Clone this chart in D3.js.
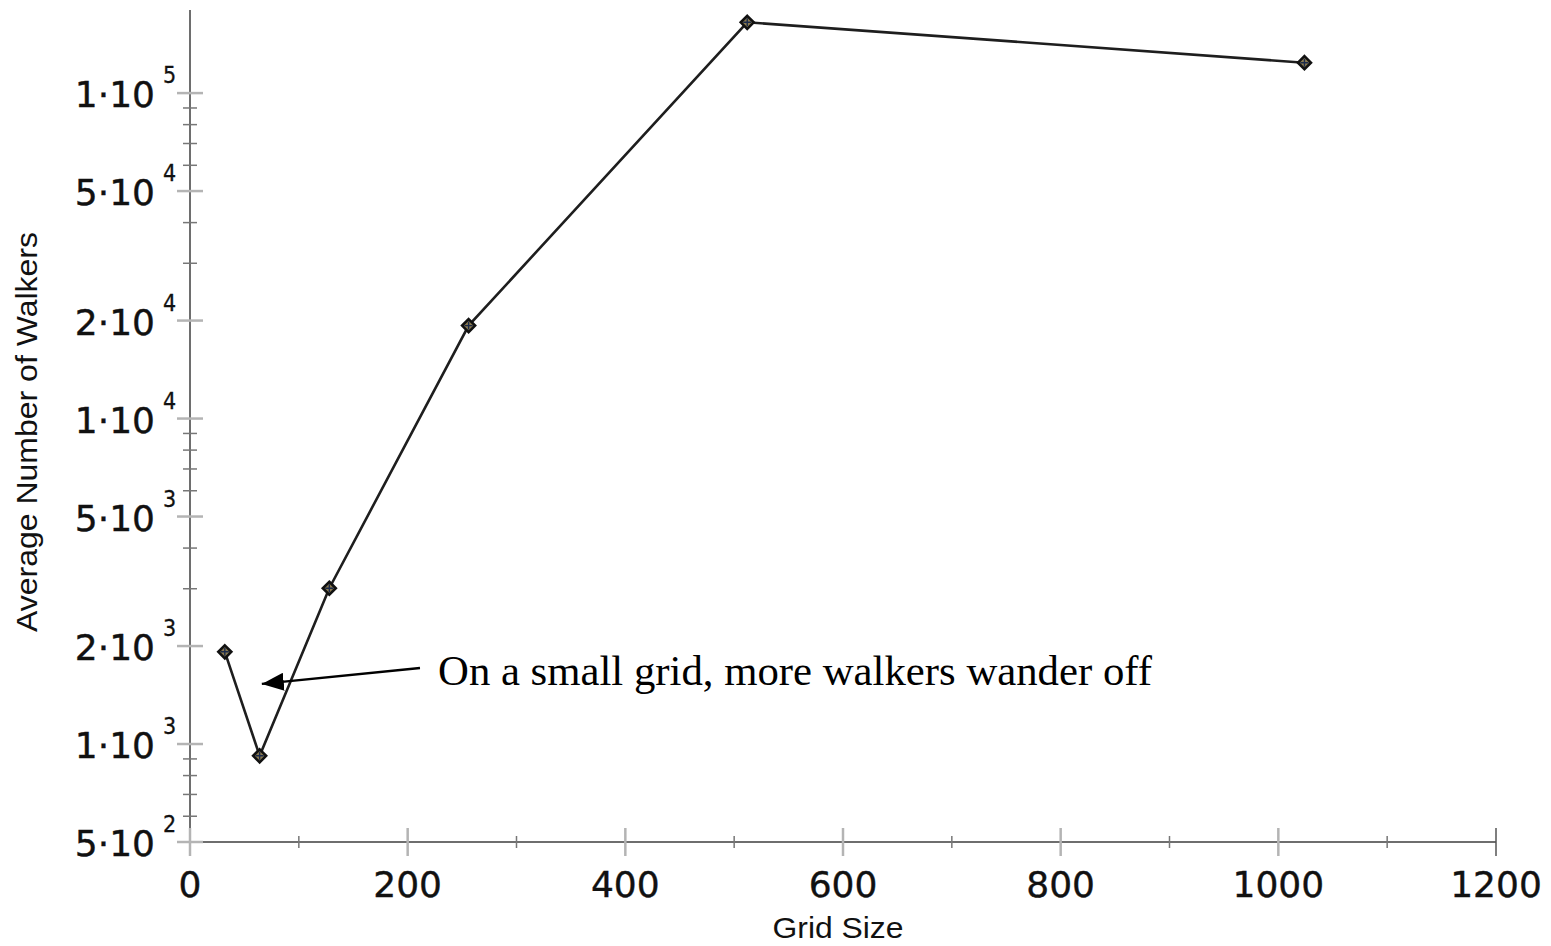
<!DOCTYPE html>
<html>
<head>
<meta charset="utf-8">
<script src="https://cdn.jsdelivr.net/npm/d3@7/dist/d3.min.js"></script>
<style>
  html, body { margin: 0; padding: 0; background: #fff; }
  svg { display: block; }
</style>
</head>
<body>
<svg id="chart" width="1551" height="946"></svg>
<script>
// ---- data ----
const gridSizes = [32, 64, 128, 256, 512, 1024];
const avgWalkers = [1920, 920, 3010, 19300, 165000, 124000];
const xTickValues = [0, 200, 400, 600, 800, 1000, 1200];
const xMinorTicks = [100, 300, 500, 700, 900, 1100];
const yMajorTicks = [500, 1000, 2000, 5000, 10000, 20000, 50000, 100000];
const yMajorMantissa = ["5", "1", "2", "5", "1", "2", "5", "1"];
const yMajorExponent = ["2", "3", "3", "3", "4", "4", "4", "5"];
const yMinorTicks = [600, 700, 800, 900, 3000, 4000, 6000, 7000, 8000, 9000,
                     30000, 40000, 60000, 70000, 80000, 90000];
const xLabel = "Grid Size";
const yLabel = "Average Number of Walkers";
const annotationText = "On a small grid, more walkers wander off";
const annotationTarget = [66, 1530];   // data coords of arrow tip

// ---- layout ----
const svg = d3.select("#chart");
const x = d3.scaleLinear().domain([0, 1200]).range([190, 1496]);
const y = d3.scaleLog().domain([500, 180000]).range([842, 10]);
const axisColor = "#6e6e6e";
const majorTickColor = "#b4b4b4";

// axes lines
svg.append("line").attr("x1", x(0)).attr("x2", x(1200)).attr("y1", y(500)).attr("y2", y(500))
  .attr("stroke", axisColor).attr("stroke-width", 2);
svg.append("line").attr("x1", x(0)).attr("x2", x(0)).attr("y1", y(500)).attr("y2", y(180000))
  .attr("stroke", axisColor).attr("stroke-width", 2);

// x ticks
svg.selectAll(".xmaj").data(xTickValues).enter().append("line")
  .attr("x1", d => x(d)).attr("x2", d => x(d))
  .attr("y1", y(500) - 14).attr("y2", y(500) + 14)
  .attr("stroke", d => d === 1200 ? "#555" : majorTickColor)
  .attr("stroke-width", d => d === 1200 ? 1.5 : 2.5);
svg.selectAll(".xmin").data(xMinorTicks).enter().append("line")
  .attr("x1", d => x(d)).attr("x2", d => x(d))
  .attr("y1", y(500) - 6).attr("y2", y(500) + 6)
  .attr("stroke", "#777").attr("stroke-width", 1.5);
svg.selectAll(".xlab").data(xTickValues).enter().append("text")
  .attr("x", d => x(d)).attr("y", y(500) + 55)
  .attr("text-anchor", "middle")
  .attr("font-family", "DejaVu Sans, Verdana, sans-serif")
  .attr("font-size", 36).attr("fill", "#111")
  .attr("stroke", "#111").attr("stroke-width", 0.4)
  .text(d => d3.format("d")(d));

// y ticks
svg.selectAll(".ymaj").data(yMajorTicks).enter().append("line")
  .attr("x1", x(0) - 13).attr("x2", x(0) + 13)
  .attr("y1", d => y(d)).attr("y2", d => y(d))
  .attr("stroke", majorTickColor).attr("stroke-width", 2.5);
svg.selectAll(".ymin").data(yMinorTicks).enter().append("line")
  .attr("x1", x(0) - 7).attr("x2", x(0) + 7)
  .attr("y1", d => y(d)).attr("y2", d => y(d))
  .attr("stroke", "#777").attr("stroke-width", 1.5);
const ylab = svg.selectAll(".ylab").data(yMajorTicks).enter().append("g");
ylab.append("text")
  .attr("x", 155).attr("y", d => y(d) + 14)
  .attr("text-anchor", "end")
  .attr("font-family", "DejaVu Sans, Verdana, sans-serif")
  .attr("font-size", 36).attr("fill", "#111")
  .attr("stroke", "#111").attr("stroke-width", 0.4)
  .text((d, i) => yMajorMantissa[i] + "\u00B710");
ylab.append("text")
  .attr("x", 163).attr("y", d => y(d) - 10)
  .attr("text-anchor", "start")
  .attr("font-family", "DejaVu Sans Condensed, DejaVu Sans, sans-serif")
  .attr("font-size", 23).attr("fill", "#111")
  .attr("stroke", "#111").attr("stroke-width", 0.3)
  .text((d, i) => yMajorExponent[i]);

// axis labels
svg.append("text")
  .attr("x", 838).attr("y", 938)
  .attr("text-anchor", "middle")
  .attr("font-family", "Liberation Sans, Arial, sans-serif")
  .attr("font-size", 29).attr("fill", "#111")
  .attr("textLength", 131).attr("lengthAdjust", "spacingAndGlyphs")
  .text(xLabel);
svg.append("text")
  .attr("transform", "translate(37,432) rotate(-90)")
  .attr("text-anchor", "middle")
  .attr("font-family", "Liberation Sans, Arial, sans-serif")
  .attr("font-size", 30).attr("fill", "#111")
  .attr("textLength", 400).attr("lengthAdjust", "spacingAndGlyphs")
  .text(yLabel);

// data line
const pts = gridSizes.map((g, i) => [g, avgWalkers[i]]);
svg.append("path")
  .datum(pts)
  .attr("d", d3.line().x(d => x(d[0])).y(d => y(d[1])))
  .attr("fill", "none").attr("stroke", "#1e1e1e").attr("stroke-width", 2.6);

// markers
const mk = svg.selectAll(".mk").data(pts).enter().append("g")
  .attr("transform", d => `translate(${x(d[0])},${y(d[1])})`);
mk.append("path")
  .attr("d", "M0,-6.5 L6.5,0 L0,6.5 L-6.5,0 Z")
  .attr("fill", "#8a7a50").attr("stroke", "#111").attr("stroke-width", 2.6);
mk.append("path")
  .attr("d", "M0,-4 L0,4 M-4,0 L4,0")
  .attr("stroke", "#1b2a4a").attr("stroke-width", 1.4);

// annotation
svg.append("defs").append("marker")
  .attr("id", "arrowhead")
  .attr("viewBox", "0 0 22 18")
  .attr("refX", 22).attr("refY", 9)
  .attr("markerWidth", 22).attr("markerHeight", 18)
  .attr("markerUnits", "userSpaceOnUse")
  .attr("orient", "auto")
  .append("path").attr("d", "M0,0 L22,9 L0,18 Z").attr("fill", "#000");
svg.append("line")
  .attr("x1", 420).attr("y1", 668)
  .attr("x2", x(annotationTarget[0])).attr("y2", y(annotationTarget[1]))
  .attr("stroke", "#000").attr("stroke-width", 2.4)
  .attr("marker-end", "url(#arrowhead)");
svg.append("text")
  .attr("x", 438).attr("y", 685)
  .attr("font-family", "Liberation Serif, Times New Roman, serif")
  .attr("font-size", 42).attr("fill", "#000")
  .attr("textLength", 714).attr("lengthAdjust", "spacingAndGlyphs")
  .text(annotationText);
</script>
</body>
</html>
